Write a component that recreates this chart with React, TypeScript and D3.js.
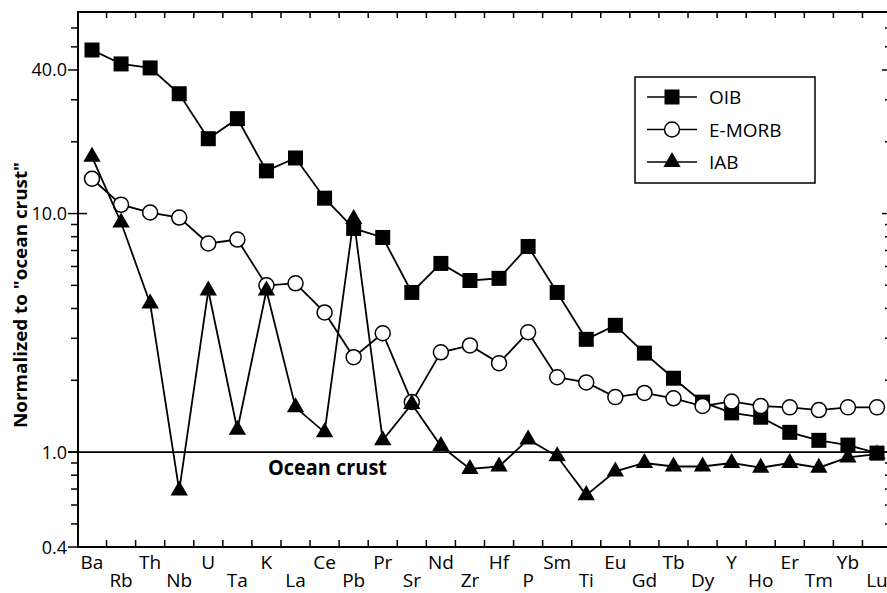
import React from 'react';
import * as d3 from 'd3';

const elements = ['Ba', 'Rb', 'Th', 'Nb', 'U', 'Ta', 'K', 'La', 'Ce', 'Pb', 'Pr', 'Sr', 'Nd', 'Zr',
  'Hf', 'P', 'Sm', 'Ti', 'Eu', 'Gd', 'Tb', 'Dy', 'Y', 'Ho', 'Er', 'Tm', 'Yb', 'Lu'];

const oib = [48.5, 42.4, 40.8, 31.8, 20.6, 25, 15.1, 17.1, 11.6, 8.66, 7.94, 4.67, 6.18, 5.24,
  5.35, 7.28, 4.67, 2.97, 3.4, 2.6, 2.04, 1.62, 1.46, 1.4, 1.21, 1.12, 1.07, 0.99];
const emorb = [14.0, 10.9, 10.1, 9.62, 7.49, 7.78, 5.0, 5.1, 3.85, 2.5, 3.15, 1.62, 2.62, 2.8,
  2.36, 3.18, 2.06, 1.96, 1.7, 1.77, 1.68, 1.56, 1.63, 1.56, 1.54, 1.5, 1.54, 1.54];
const iab = [17.3, 9.17, 4.2, 0.69, 4.76, 1.24, 4.76, 1.54, 1.21, 9.5, 1.12, 1.59, 1.06, 0.85,
  0.87, 1.13, 0.96, 0.66, 0.83, 0.9, 0.87, 0.87, 0.9, 0.86, 0.9, 0.86, 0.95, 0.98];

const seriesNames = ['OIB', 'E-MORB', 'IAB'];
const yTickLabels = [0.4, 1, 10, 40];
const minorTicks = [0.5, 0.6, 0.7, 0.8, 0.9, 2, 3, 4, 5, 6, 7, 8, 9, 20, 30, 50, 60];

const FONT = '"Open Sans", "Noto Sans", sans-serif';

function Marker({ kind, x, y }: { kind: string; x: number; y: number }) {
  if (kind === 'E-MORB') {
    return <circle cx={x} cy={y} r={7.5} fill="#fff" stroke="#000" strokeWidth={1.5} />;
  }
  const sym = kind === 'OIB'
    ? d3.symbol(d3.symbolSquare, 225)
    : d3.symbol(d3.symbolTriangle, 130);
  return <path d={sym() as string} transform={`translate(${x},${y})`} fill="#000" />;
}

export default function App() {
  const width = 887;
  const height = 593;
  const left = 78, right = 891, top = 12, bottom = 547;

  const x = d3.scalePoint<string>().domain(elements).range([92, 877]);
  const y = d3.scaleLog().domain([0.4, 70]).range([bottom, top]);
  const step = x.step();

  const line = d3.line<number>()
    .x((_, i) => x(elements[i]) as number)
    .y(d => y(d));

  const series = [
    { name: 'OIB', values: oib },
    { name: 'E-MORB', values: emorb },
    { name: 'IAB', values: iab },
  ];

  const midTicks = elements.slice(0, -1).map(e => (x(e) as number) + step / 2);

  return (
    <svg width={width} height={height} style={{ position: 'absolute', left: 0, top: 0, background: '#fff' }}
      fontFamily={FONT}>
      {/* frame */}
      <g stroke="#000" strokeWidth={2} fill="none">
        <line x1={left} x2={left} y1={top - 1} y2={bottom + 1} />
        <line x1={left} x2={right} y1={bottom} y2={bottom} />
        <line x1={left} x2={right} y1={top} y2={top} />
        <line x1={right} x2={right} y1={top} y2={bottom} />
      </g>
      {/* x ticks, inward on top and bottom */}
      <g stroke="#000" strokeWidth={1.5}>
        {midTicks.map((t, i) => (
          <g key={i}>
            <line x1={t} x2={t} y1={bottom} y2={bottom - 7} />
            <line x1={t} x2={t} y1={top} y2={top + 6} />
          </g>
        ))}
      </g>
      {/* y ticks */}
      <g stroke="#000" strokeWidth={1.5}>
        {minorTicks.map(v => (
          <g key={v}>
            <line x1={left - 7} x2={left} y1={y(v)} y2={y(v)} />
            <line x1={right - 6} x2={right} y1={y(v)} y2={y(v)} />
          </g>
        ))}
        {yTickLabels.map(v => (
          <g key={v}>
            <line x1={left - 10} x2={v === 10 ? left + 9 : left} y1={y(v)} y2={y(v)} />
            <line x1={right - 9} x2={right} y1={y(v)} y2={y(v)} />
          </g>
        ))}
      </g>
      {yTickLabels.map(v => (
        <text key={v} x={left - 11} y={y(v) + 6.5} textAnchor="end" fontSize={18} fill="#000">
          {d3.format('.1f')(v)}
        </text>
      ))}
      {/* x labels alternate in two rows */}
      {elements.map((e, i) => (
        <text key={e} x={x(e)} y={i % 2 === 0 ? 569 : 587} textAnchor="middle" fontSize={19} fill="#000">
          {e}
        </text>
      ))}
      <text transform="translate(27,295) rotate(-90)" textAnchor="middle" fontSize={18} fontWeight="bold"
        textLength={266} lengthAdjust="spacingAndGlyphs" fill="#000">
        Normalized to "ocean crust"
      </text>

      {/* ocean crust reference */}
      <line x1={left - 10} x2={right} y1={y(1)} y2={y(1)} stroke="#000" strokeWidth={1.6} />
      <text x={268} y={475} fontSize={21} fontWeight="bold" textLength={119} lengthAdjust="spacingAndGlyphs" fill="#000">
        Ocean crust
      </text>

      {series.map(s => (
        <g key={s.name}>
          <path d={line(s.values) as string} fill="none" stroke="#000" strokeWidth={1.8} />
          {s.values.map((v, i) => (
            <Marker key={i} kind={s.name} x={x(elements[i]) as number} y={y(v)} />
          ))}
        </g>
      ))}

      {/* legend */}
      <rect x={635} y={77} width={180} height={106} fill="#fff" stroke="#000" strokeWidth={1.5} />
      {seriesNames.map((n, i) => {
        const ly = 97 + i * 32.5;
        return (
          <g key={n}>
            <line x1={647} x2={697} y1={ly} y2={ly} stroke="#000" strokeWidth={1.6} />
            <Marker kind={n} x={672} y={ly} />
            <text x={709} y={ly + 7} fontSize={19} fill="#000">{n}</text>
          </g>
        );
      })}
    </svg>
  );
}
